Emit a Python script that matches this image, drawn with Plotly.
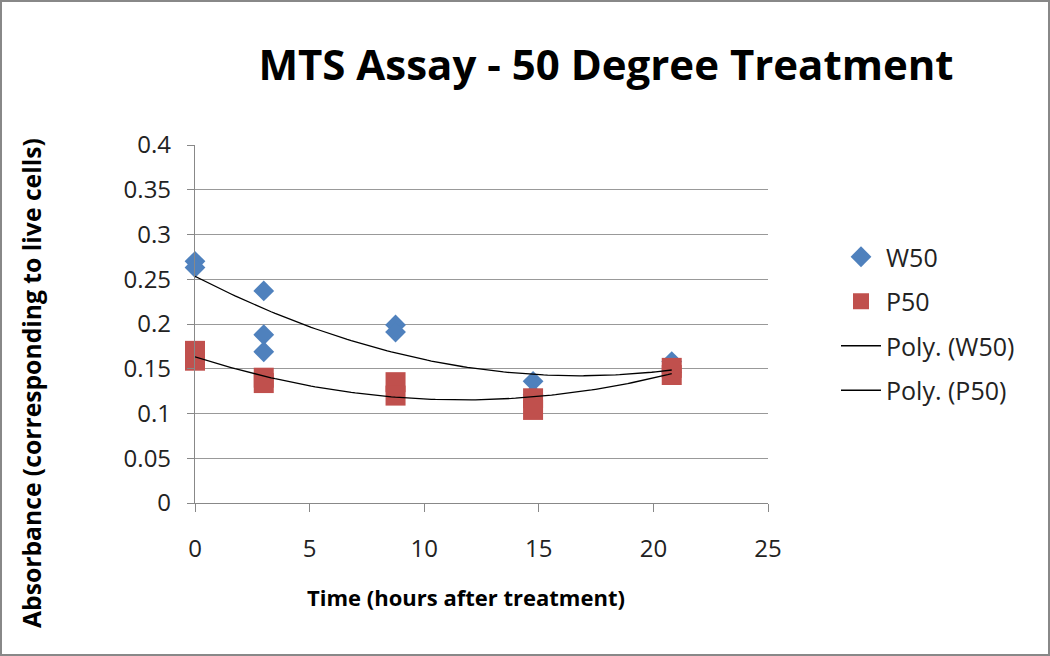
import numpy as np
import plotly.graph_objects as go

# Data (some replicates sit under other markers)
w50_x = [0, 0, 3, 3, 3, 8.75, 8.75, 14.75, 14.75, 20.8, 20.8]
w50_y = [0.270, 0.263, 0.237, 0.188, 0.169, 0.199, 0.191, 0.136, 0.121, 0.158, 0.146]
p50_x = [0, 0, 3, 3, 8.75, 8.75, 14.75, 14.75, 20.8, 20.8]
p50_y = [0.170, 0.159, 0.140, 0.134, 0.135, 0.120, 0.117, 0.104, 0.151, 0.143]
x_ticks = [0, 5, 10, 15, 20, 25]
y_ticks = [0, 0.05, 0.1, 0.15, 0.2, 0.25, 0.3, 0.35, 0.4]
y_tick_labels = ["0", "0.05", "0.1", "0.15", "0.2", "0.25", "0.3", "0.35", "0.4"]

# Polynomial (order 2) trendlines, as Excel computes them from the data
def poly_trend(xs, ys):
    c = np.polyfit(xs, ys, 2)
    xx = np.linspace(min(xs), max(xs), 120)
    return xx, np.polyval(c, xx)

tw_x, tw_y = poly_trend(w50_x, w50_y)
tp_x, tp_y = poly_trend(p50_x, p50_y)

FONT = "Open Sans"
W, H = 1050, 656
L, R, T, B = 195, 282, 145, 153
pw, ph = W - L - R, H - T - B

fig = go.Figure()
fig.add_trace(go.Scatter(x=w50_x, y=w50_y, mode="markers", name="W50",
                         legendgroup="a", cliponaxis=False,
                         marker=dict(symbol="diamond", size=16, color="#4F81BD")))
fig.add_trace(go.Scatter(x=p50_x, y=p50_y, mode="markers", name="P50",
                         legendgroup="b", cliponaxis=False,
                         marker=dict(symbol="square", size=20, color="#C0504D")))
fig.add_trace(go.Scatter(x=tw_x, y=tw_y, mode="lines", name="Poly. (W50)",
                         legendgroup="c",
                         line=dict(color="black", width=1.3)))
fig.add_trace(go.Scatter(x=tp_x, y=tp_y, mode="lines", name="Poly. (P50)",
                         legendgroup="d",
                         line=dict(color="black", width=1.3)))

fig.update_layout(
    width=W, height=H,
    margin=dict(l=L, r=R, t=T, b=B),
    paper_bgcolor="white", plot_bgcolor="white",
    font=dict(family=FONT, color="#222", size=22),
    title=dict(text="<b>MTS Assay - 50 Degree Treatment</b>",
               x=606 / W, xanchor="center", y=1 - 65 / H, yanchor="middle",
               font=dict(family=FONT, size=42, color="black")),
    showlegend=True,
    legend=dict(x=(836 - L) / pw, xanchor="left", y=(H - B - 234) / ph, yanchor="top",
                font=dict(family=FONT, size=25, color="#222"),
                itemwidth=40,
                tracegroupgap=9, bgcolor="rgba(0,0,0,0)"),
    xaxis=dict(range=[0, 25], tickvals=x_ticks, showgrid=False,
               showline=True, linecolor="#888", linewidth=1.2,
               ticks="outside", ticklen=8, tickcolor="#888",
               zeroline=False, tickfont=dict(size=24, color="#222"),
               ticklabelstandoff=16),
    yaxis=dict(range=[0, 0.4], tickvals=y_ticks, ticktext=y_tick_labels,
               showgrid=True, gridcolor="#999", gridwidth=1.2,
               showline=True, linecolor="#888", linewidth=1.2,
               ticks="outside", ticklen=7, tickcolor="#888",
               zeroline=False, tickfont=dict(size=24, color="#222"),
               ticklabelstandoff=11),
    annotations=[
        dict(text="<b>Time (hours after treatment)</b>", xref="paper", yref="paper",
             x=(466 - L) / pw, y=(H - B - 597) / ph, xanchor="center", yanchor="middle",
             showarrow=False, font=dict(family=FONT, size=22, color="black")),
        dict(text="<b>Absorbance (corresponding to live cells)</b>", xref="paper", yref="paper",
             x=(31 - L) / pw, y=(H - B - 383) / ph, xanchor="center", yanchor="middle",
             textangle=-90, showarrow=False, font=dict(family=FONT, size=24.7, color="black")),
    ],
    shapes=[dict(type="rect", xref="paper", yref="paper",
                 x0=(1 - L) / pw, x1=(W - 1 - L) / pw,
                 y0=(1 - B) / ph, y1=(H - 1 - B) / ph,
                 line=dict(color="#888", width=2), layer="below")],
)

fig.write_html("out.html", config={"displayModeBar": False},
               post_script="document.body.style.margin='0';")
